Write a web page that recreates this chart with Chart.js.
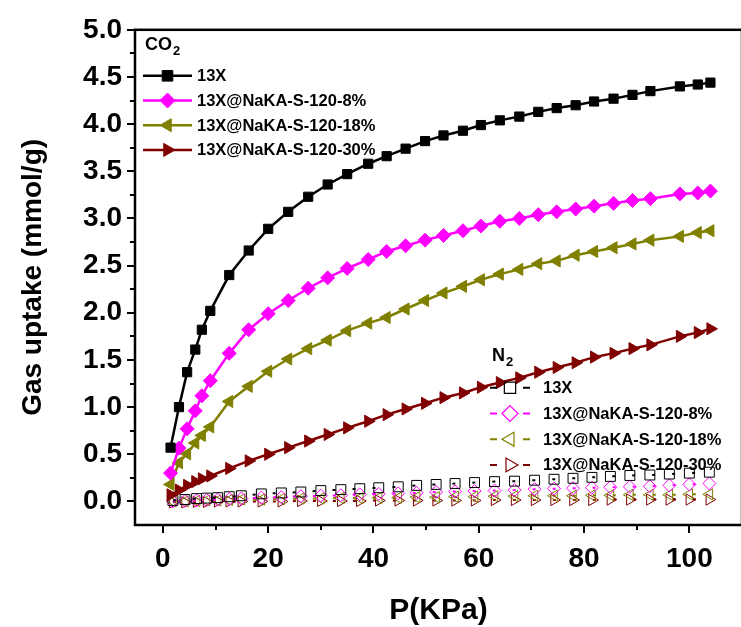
<!DOCTYPE html>
<html>
<head>
<meta charset="utf-8">
<style>
  html, body { margin: 0; padding: 0; overflow: hidden; background: #fff; }
  #wrap { width: 750px; height: 627px; }
</style>
<script src="https://cdn.jsdelivr.net/npm/chart.js@4.4.0/dist/chart.umd.min.js"></script>
</head>
<body>
<div id="wrap"><canvas id="chart" width="750" height="627"></canvas></div>
<script>
  // CO2 isotherms (pressure in kPa, uptake in mmol/g)
  var P_CO2 = [1.45, 3.05, 4.6, 6.15, 7.4, 9.0, 12.6, 16.3, 20.0, 23.8, 27.6, 31.3, 35.0, 39.0,
               42.5, 46.1, 49.8, 53.3, 57.0, 60.4, 64.0, 67.7, 71.3, 74.8, 78.4, 81.9, 85.6, 89.2,
               92.6, 98.2, 101.6, 104.0];
  var CO2_13X = [0.57, 1.00, 1.37, 1.61, 1.82, 2.02, 2.40, 2.66, 2.89, 3.07, 3.23, 3.36, 3.47, 3.58,
                 3.66, 3.74, 3.82, 3.88, 3.93, 3.99, 4.04, 4.08, 4.13, 4.17, 4.20, 4.24, 4.27, 4.31,
                 4.35, 4.40, 4.42, 4.44];
  var CO2_8 = [0.30, 0.565, 0.77, 0.96, 1.12, 1.28, 1.57, 1.82, 1.99, 2.13, 2.26, 2.37, 2.47, 2.565,
               2.65, 2.71, 2.77, 2.82, 2.87, 2.92, 2.97, 3.00, 3.04, 3.07, 3.10, 3.13, 3.16, 3.19,
               3.21, 3.26, 3.27, 3.29];
  var CO2_18 = [0.18, 0.41, 0.505, 0.62, 0.70, 0.79, 1.06, 1.22, 1.38, 1.51, 1.62, 1.71, 1.81, 1.89,
                1.95, 2.04, 2.13, 2.21, 2.28, 2.35, 2.41, 2.46, 2.52, 2.55, 2.61, 2.65, 2.69, 2.73,
                2.77, 2.81, 2.85, 2.87];
  var CO2_30 = [0.07, 0.12, 0.17, 0.21, 0.24, 0.27, 0.35, 0.43, 0.50, 0.57, 0.64, 0.71, 0.78, 0.85,
                0.92, 0.98, 1.04, 1.10, 1.15, 1.21, 1.26, 1.31, 1.37, 1.42, 1.47, 1.53, 1.57, 1.62,
                1.66, 1.75, 1.79, 1.83];

  // N2 isotherms
  var P_N2 = [1.9, 4.2, 6.4, 8.3, 10.4, 12.6, 14.9, 18.7, 22.5, 26.2, 30.0, 33.8, 37.4, 41.0, 44.7,
              48.2, 51.9, 55.5, 59.2, 63.0, 66.8, 70.6, 74.3, 77.9, 81.5, 85.0, 88.7, 92.5, 96.2,
              100.0, 103.8];
  var N2_13X = [0.01, 0.02, 0.03, 0.035, 0.04, 0.05, 0.06, 0.08, 0.09, 0.10, 0.115, 0.125, 0.135,
                0.145, 0.155, 0.17, 0.18, 0.19, 0.20, 0.21, 0.215, 0.225, 0.235, 0.245, 0.255, 0.265,
                0.275, 0.28, 0.29, 0.30, 0.31];
  var N2_8 = [0.0, 0.005, 0.01, 0.015, 0.02, 0.025, 0.03, 0.04, 0.045, 0.055, 0.06, 0.065, 0.075,
              0.08, 0.085, 0.09, 0.10, 0.105, 0.11, 0.115, 0.12, 0.13, 0.135, 0.14, 0.145, 0.15,
              0.155, 0.16, 0.17, 0.18, 0.19];
  var N2_18 = [0.0, 0.0, 0.005, 0.01, 0.01, 0.015, 0.02, 0.02, 0.025, 0.03, 0.03, 0.035, 0.035, 0.04,
               0.04, 0.045, 0.045, 0.05, 0.05, 0.055, 0.055, 0.06, 0.06, 0.06, 0.065, 0.065, 0.07,
               0.07, 0.07, 0.075, 0.075];
  var N2_30 = [-0.01, -0.01, -0.005, -0.005, 0.0, 0.0, 0.0, 0.0, 0.0, 0.005, 0.005, 0.005, 0.005, 0.01,
               0.01, 0.01, 0.01, 0.01, 0.01, 0.015, 0.015, 0.015, 0.015, 0.015, 0.015, 0.02, 0.02,
               0.02, 0.02, 0.02, 0.02];

  var SERIES_NAMES = ["13X", "13X@NaKA-S-120-8%", "13X@NaKA-S-120-18%", "13X@NaKA-S-120-30%"];
  var GAS_LABELS = [["CO", "2"], ["N", "2"]];
  var X_TICKS = [0, 10, 20, 30, 40, 50, 60, 70, 80, 90, 100];
  var X_LABELS = [0, 20, 40, 60, 80, 100];
  var Y_TICKS = [0, 0.25, 0.5, 0.75, 1, 1.25, 1.5, 1.75, 2, 2.25, 2.5, 2.75, 3, 3.25, 3.5, 3.75,
                 4, 4.25, 4.5, 4.75, 5];
  var Y_LABELS = [0, 0.5, 1, 1.5, 2, 2.5, 3, 3.5, 4, 4.5, 5];

  var COLORS = ["#000000", "#ff00ff", "#808000", "#800000"];
  var SHAPES = ["rect", "diamond", "left", "right"];
  var FONT = "'Liberation Sans', Arial, sans-serif";

  function pts(xs, ys) {
    var out = [];
    for (var i = 0; i < xs.length; i++) out.push({ x: xs[i], y: ys[i] });
    return out;
  }

  function chartStyle(shape) {
    if (shape === "rect") return { pointStyle: "rect", pointRotation: 0 };
    if (shape === "diamond") return { pointStyle: "rectRot", pointRotation: 0 };
    if (shape === "left") return { pointStyle: "triangle", pointRotation: -90 };
    return { pointStyle: "triangle", pointRotation: 90 };
  }

  var co2Sets = [CO2_13X, CO2_8, CO2_18, CO2_30];
  var n2Sets = [N2_13X, N2_8, N2_18, N2_30];
  var CO2_RADIUS = [6.5, 7, 7, 7];
  var N2_RADIUS = [7, 6.5, 6.5, 6.5];
  var datasets = [];

  for (var i = 0; i < 4; i++) {
    var st = chartStyle(SHAPES[i]);
    datasets.push({
      label: "CO2 " + SERIES_NAMES[i],
      data: pts(P_CO2, co2Sets[i]),
      showLine: true,
      borderColor: COLORS[i],
      backgroundColor: COLORS[i],
      borderWidth: 2.5,
      pointStyle: st.pointStyle,
      rotation: st.pointRotation,
      pointRadius: CO2_RADIUS[i],
      pointBorderWidth: 1,
      pointBackgroundColor: COLORS[i],
      pointBorderColor: COLORS[i]
    });
  }
  for (i = 0; i < 4; i++) {
    st = chartStyle(SHAPES[i]);
    datasets.push({
      label: "N2 " + SERIES_NAMES[i],
      data: pts(P_N2, n2Sets[i]),
      showLine: true,
      borderColor: COLORS[i],
      borderWidth: 2,
      borderDash: [3, 17],
      backgroundColor: "transparent",
      pointStyle: st.pointStyle,
      rotation: st.pointRotation,
      pointRadius: N2_RADIUS[i],
      pointBorderWidth: 1,
      pointBackgroundColor: "transparent",
      pointBorderColor: COLORS[i]
    });
  }

  function marker(ctx, shape, x, y, r, fill, stroke, lw) {
    ctx.beginPath();
    if (shape === "rect") {
      var s = r * Math.SQRT1_2;
      ctx.rect(x - s, y - s, 2 * s, 2 * s);
    } else if (shape === "diamond") {
      ctx.moveTo(x - r, y); ctx.lineTo(x, y - r); ctx.lineTo(x + r, y); ctx.lineTo(x, y + r);
      ctx.closePath();
    } else {
      var d = shape === "right" ? 1 : -1;
      ctx.moveTo(x + d * r, y);
      ctx.lineTo(x - d * r / 2, y - r * 0.866);
      ctx.lineTo(x - d * r / 2, y + r * 0.866);
      ctx.closePath();
    }
    if (fill) { ctx.fillStyle = fill; ctx.fill(); }
    ctx.lineWidth = lw; ctx.strokeStyle = stroke; ctx.stroke();
  }

  // frame, outward ticks and the two legend blocks
  var decor = {
    id: "decor",
    afterDraw: function (chart) {
      var ctx = chart.ctx, a = chart.chartArea, xs = chart.scales.x, ys = chart.scales.y;
      var i, ry, w;
      ctx.save();
      ctx.strokeStyle = "#000";
      ctx.lineWidth = 2.5;
      ctx.strokeRect(a.left, a.top, a.right - a.left, a.bottom - a.top);
      ctx.lineWidth = 2;
      ctx.beginPath();
      X_TICKS.forEach(function (v) {
        var px = Math.round(xs.getPixelForValue(v));
        var len = v % 20 === 0 ? 8 : 5;
        ctx.moveTo(px, a.bottom); ctx.lineTo(px, a.bottom + len);
      });
      Y_TICKS.forEach(function (v) {
        var py = Math.round(ys.getPixelForValue(v));
        var len = (v * 2) % 1 === 0 ? 8 : 5;
        ctx.moveTo(a.left, py); ctx.lineTo(a.left - len, py);
      });
      ctx.stroke();

      var blocks = [
        { x: a.left + 8, head: a.top + 15, first: a.top + 46, step: 24.7, dashed: false },
        { x: a.left + 355, head: a.top + 326, first: a.top + 358, step: 25.7, dashed: true }
      ];
      blocks.forEach(function (b, k) {
        ctx.fillStyle = "#000";
        ctx.textAlign = "left";
        ctx.textBaseline = "middle";
        ctx.font = "bold 18px " + FONT;
        ctx.fillText(GAS_LABELS[k][0], b.x + 2, b.head);
        w = ctx.measureText(GAS_LABELS[k][0]).width;
        ctx.font = "bold 13px " + FONT;
        ctx.fillText(GAS_LABELS[k][1], b.x + 3 + w, b.head + 7);

        for (i = 0; i < 4; i++) {
          ry = b.first + i * b.step;
          ctx.beginPath();
          if (b.dashed) {
            ctx.moveTo(b.x, ry); ctx.lineTo(b.x + 7, ry);
            ctx.moveTo(b.x + 33, ry); ctx.lineTo(b.x + 40, ry);
            ctx.lineWidth = 2;
          } else {
            ctx.moveTo(b.x, ry); ctx.lineTo(b.x + 49, ry);
            ctx.lineWidth = 2.5;
          }
          ctx.strokeStyle = COLORS[i];
          ctx.stroke();
          if (b.dashed) marker(ctx, SHAPES[i], b.x + 20, ry, 8, null, COLORS[i], 1.2);
          else marker(ctx, SHAPES[i], b.x + 24.5, ry, 7.5, COLORS[i], COLORS[i], 1);
          ctx.font = "bold 16.5px " + FONT;
          ctx.fillStyle = "#000";
          ctx.fillText(SERIES_NAMES[i], b.x + (b.dashed ? 53 : 54), ry + 1);
        }
      });
      ctx.restore();
    }
  };

  new Chart(document.getElementById("chart"), {
    type: "scatter",
    data: { datasets: datasets },
    options: {
      responsive: false,
      animation: false,
      devicePixelRatio: 1,
      layout: { padding: { left: 0, top: 27, right: 4, bottom: 0 } },
      plugins: { legend: { display: false }, tooltip: { enabled: false } },
      scales: {
        x: {
          type: "linear",
          min: -5.3, max: 110,
          afterFit: function (s) { s.height = 102; },
          afterBuildTicks: function (s) {
            s.ticks = X_LABELS.map(function (v) { return { value: v }; });
          },
          grid: { display: false, drawTicks: false, tickLength: 0 },
          border: { display: false },
          ticks: {
            color: "#000", padding: 17, maxRotation: 0, autoSkip: false,
            font: { family: FONT, size: 28, weight: "bold" },
            callback: function (v) { return String(v); }
          },
          title: {
            display: true, text: "P(KPa)", color: "#000",
            font: { family: FONT, size: 30, weight: "bold" },
            padding: { top: 0, bottom: -2 }
          }
        },
        y: {
          type: "linear",
          min: -0.25, max: 5,
          afterFit: function (s) { s.width = 135; },
          afterBuildTicks: function (s) {
            s.ticks = Y_LABELS.map(function (v) { return { value: v }; });
          },
          grid: { display: false, drawTicks: false, tickLength: 0 },
          border: { display: false },
          ticks: {
            color: "#000", padding: 13, autoSkip: false,
            font: { family: FONT, size: 28, weight: "bold" },
            callback: function (v) { return Number(v).toFixed(1); }
          },
          title: {
            display: true, text: "Gas uptake (mmol/g)", color: "#000",
            font: { family: FONT, size: 28, weight: "bold" },
            padding: { top: 16, bottom: 0 }
          }
        }
      }
    },
    plugins: [decor]
  });
</script>
</body>
</html>
